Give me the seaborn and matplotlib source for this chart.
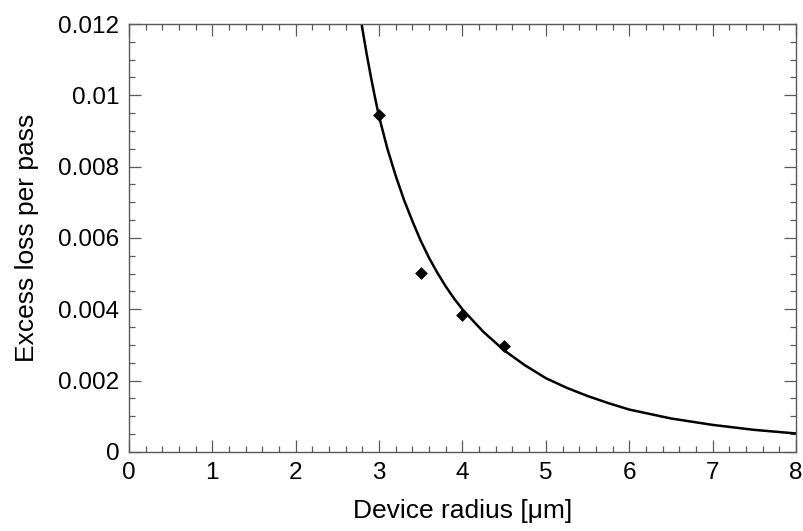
import matplotlib
matplotlib.use("Agg")
import matplotlib.pyplot as plt
from matplotlib.ticker import MultipleLocator, FuncFormatter
import seaborn as sns
import pandas as pd

# Measured excess loss per pass for each device radius (um)
radius_measured = [3.0, 3.5, 4.0, 4.5]
loss_measured = [0.00945, 0.00503, 0.00384, 0.00296]

# Fitted loss curve, sampled along the radius axis
radius_fit = [2.79, 2.85, 2.9, 2.95, 3.0, 3.1, 3.2, 3.3, 3.4, 3.5, 3.6, 3.7,
              3.8, 3.9, 4.0, 4.25, 4.5, 4.75, 5.0, 5.25, 5.5, 5.75, 6.0,
              6.5, 7.0, 7.5, 8.0]
loss_fit = [0.0120, 0.01117, 0.01054, 0.00995, 0.0094, 0.0085, 0.00774,
            0.00706, 0.00647, 0.00592, 0.00544, 0.00502, 0.00464, 0.00430,
            0.00400, 0.00337, 0.00285, 0.00243, 0.00207, 0.00180, 0.00157,
            0.00137, 0.00119, 0.00094, 0.00076, 0.00062, 0.00052]

x_ticks = [0, 1, 2, 3, 4, 5, 6, 7, 8]
y_ticks = [0, 0.002, 0.004, 0.006, 0.008, 0.01, 0.012]

sns.set_style("ticks")
plt.rcParams["font.family"] = ["Liberation Sans", "DejaVu Sans"]

fig = plt.figure(figsize=(8.04, 5.31), dpi=100)
ax = fig.add_axes([0.1604, 0.1488, 0.8296, 0.806])

fit_df = pd.DataFrame({"radius": radius_fit, "loss": loss_fit})
meas_df = pd.DataFrame({"radius": radius_measured, "loss": loss_measured})

sns.lineplot(data=fit_df, x="radius", y="loss", color="black", lw=1.8,
             sort=False, ax=ax)
sns.scatterplot(data=meas_df, x="radius", y="loss", marker="D", s=36,
                color="black", edgecolor="black", linewidth=0.5, ax=ax,
                zorder=3)

ax.set_xlim(0, 8)
ax.set_ylim(0, 0.012)
ax.set_xticks(x_ticks)
ax.set_yticks(y_ticks)
ax.xaxis.set_minor_locator(MultipleLocator(0.2))
ax.yaxis.set_minor_locator(MultipleLocator(0.0005))
ax.yaxis.set_major_formatter(FuncFormatter(lambda v, p: f"{v:g}"))
ax.xaxis.set_major_formatter(FuncFormatter(lambda v, p: f"{v:g}"))

spine_color = "#5a5a5a"
for s in ax.spines.values():
    s.set_visible(True)
    s.set_color(spine_color)
    s.set_linewidth(1.0)

ax.tick_params(which="both", direction="in", top=True, right=True,
               color=spine_color, width=0.9, labelsize=17.5,
               labelcolor="black")
ax.tick_params(which="major", length=8.8, pad=7)
ax.tick_params(which="minor", length=4.3)

ax.set_xlabel("Device radius [μm]", fontsize=19, labelpad=11, color="black")
ax.set_ylabel("Excess loss per pass", fontsize=19, labelpad=14, color="black")

fig.savefig("out.png", dpi=100)
